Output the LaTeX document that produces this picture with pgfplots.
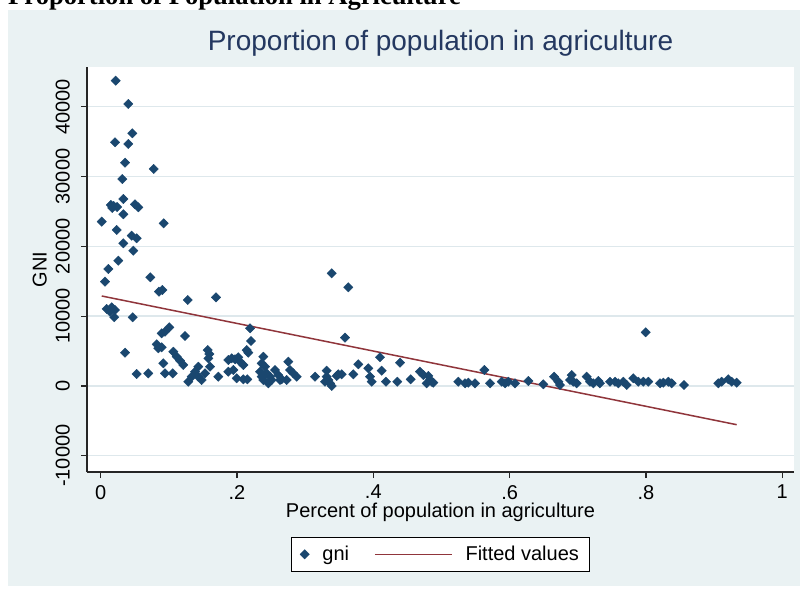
\documentclass[border=0pt]{standalone}
\usepackage{fontspec}
\setmainfont{Liberation Sans}
\newfontfamily\timesf{Liberation Serif}
\usepackage{pgfplots}
\pgfplotsset{compat=1.18}
\definecolor{bgc}{RGB}{234,242,243}
\definecolor{gridc}{RGB}{222,232,236}
\definecolor{stnavy}{RGB}{26,71,111}
\definecolor{stmaroon}{RGB}{144,53,59}
\definecolor{titlec}{RGB}{36,56,96}
\pgfplotsset{
  markleg/.style={legend image code/.code={\draw[##1] plot coordinates {(0pt,0pt)};}},
  lineleg/.style={legend image code/.code={\draw[##1] (0pt,0pt) -- (77pt,0pt);}},
}
\pgfplotstableread{
x y
0.022 43730
0.0405 40390
0.0464 36190
0.021 34900
0.0405 34660
0.0357 31980
0.0778 31080
0.0317 29640
0.0332 26780
0.015 25920
0.019 25780
0.024 25630
0.017 25500
0.0503 26020
0.0552 25590
0.0332 24590
0.0015 23530
0.0924 23290
0.0235 22340
0.0455 21520
0.0528 21150
0.0332 20430
0.0478 19370
0.0258 17940
0.0112 16750
0.0063 14930
0.0728 15560
0.0855 13500
0.0904 13740
0.1277 12310
0.1692 12690
0.0088 11020
0.0161 11260
0.021 10870
0.0136 10630
0.0199 9830
0.047 9830
0.1007 8395
0.0944 7765
0.0895 7535
0.1237 7150
0.0357 4760
0.0822 5960
0.0845 5390
0.0895 5530
0.0528 1705
0.0698 1800
0.0919 3240
0.0944 1800
0.1057 1800
0.1066 4900
0.1115 4180
0.1164 3610
0.1212 2995
0.1285 600
0.1335 1320
0.1384 2035
0.1432 2750
0.1432 1320
0.148 845
0.157 5140
0.158 3950
0.1604 2750
0.153 1800
0.1726 1320
0.2191 8250
0.2205 6430
0.2142 5140
0.2166 4760
0.1594 4570
0.1873 3710
0.1922 3950
0.1971 3810
0.2019 4100
0.2044 3470
0.2093 2995
0.1873 2035
0.1946 2280
0.1996 1090
0.2093 945
0.2151 945
0.2386 4180
0.2362 3240
0.2411 2750
0.2338 2035
0.2436 1800
0.2485 1320
0.2386 845
0.2459 370
0.2509 845
0.2362 1320
0.2558 2280
0.2606 1560
0.2631 845
0.2753 3470
0.2778 2280
0.2826 1800
0.2876 1320
0.2656 945
0.2729 845
0.3145 1320
0.339 16130
0.3633 14130
0.3585 6910
0.3316 2180
0.3316 1320
0.3291 600
0.3365 370
0.339 -15
0.334 845
0.3487 1660
0.3536 1660
0.3463 1420
0.3707 1660
0.378 3095
0.3927 2520
0.3952 1320
0.3976 600
0.4098 4100
0.4123 2180
0.4186 600
0.4352 600
0.4392 3325
0.4549 945
0.4685 2035
0.4734 1560
0.4807 1420
0.4832 845
0.4783 370
0.4857 600
0.4881 460
0.5247 600
0.5346 370
0.5394 460
0.5492 370
0.5629 2280
0.5713 370
0.5884 600
0.5933 370
0.5981 600
0.6079 370
0.6275 700
0.6495 230
0.6652 1320
0.6715 600
0.674 130
0.6911 1560
0.6935 600
0.6984 370
0.6886 845
0.7131 1320
0.718 600
0.7228 370
0.7302 700
0.7326 370
0.7473 600
0.7547 600
0.7595 370
0.7668 600
0.7718 130
0.7815 1090
0.7888 600
0.7962 600
0.8035 600
0.7997 7680
0.8207 370
0.8255 460
0.8329 600
0.8378 370
0.8559 130
0.9062 370
0.9112 600
0.9209 945
0.9259 600
0.9332 460
}\gnidata
\pgfplotstableread{
x y
0.0015 12880
0.9332 -5558
}\fitdata
\begin{document}
\begin{tikzpicture}[x=1pt,y=1pt]
\path[use as bounding box, clip] (0,0) rectangle (803,592);
\fill[bgc] (8,6) rectangle (800,582);
\node[anchor=base west, inner sep=0pt, font=\fontsize{26.6}{26.6}\selectfont\timesf\bfseries] at (8,587) {Proportion of Population in Agriculture};
\begin{axis}[
  at={(87pt,120pt)}, anchor=south west,
  scale only axis, width=707pt, height=404.5pt,
  xmin=-0.0201, xmax=1.0173, ymin=-12335, ymax=45616,
  axis x line*=bottom, axis y line*=left,
  axis line style={draw=black!85, line width=1.2pt},
  tick style={draw=black!85, line width=1.2pt},
  tick align=outside, major tick length=6pt,
  axis background/.style={fill=white},
  xtick={0,0.2,0.4,0.6,0.8,1}, xticklabels={0,.2,.4,.6,.8,1},
  ytick={-10000,0,10000,20000,30000,40000},
  yticklabels={-10000,0,10000,20000,30000,40000},
  scaled y ticks=false,
  ymajorgrids, grid style={draw=gridc, line width=1.5pt},
  ticklabel style={font=\fontsize{20}{20}\selectfont},
  yticklabel style={rotate=90, anchor=south, inner sep=0pt, inner ysep=11pt},
  xticklabel style={anchor=north, inner sep=0pt, yshift=-7pt},
  title={Proportion of population in agriculture},
  title style={at={(axis description cs:0.5,1.0267)}, anchor=base, font=\fontsize{28}{28}\selectfont, text=titlec},
  xlabel={Percent of population in agriculture},
  xlabel style={at={(axis description cs:0.5,-0.1135)}, anchor=base, inner sep=0pt, font=\fontsize{20}{20}\selectfont},
  ylabel={GNI},
  ylabel style={at={(axis description cs:-0.057,0.5)}, anchor=base, inner sep=0pt, font=\fontsize{20}{20}\selectfont},
  legend columns=2,
  legend style={at={(0.5,-0.2035)}, anchor=center, draw=black, fill=white, line width=1pt,
    font=\fontsize{20}{20}\selectfont, inner xsep=8.5pt, inner ysep=7pt,
    /tikz/every odd column/.append style={column sep=11pt},
    /tikz/every even column/.append style={column sep=23pt}},
]
\addplot[only marks, mark=square*, mark size=3.3pt, mark options={rotate=45, fill=stnavy, draw=stnavy, line width=0.4pt}, markleg] table[x=x, y=y] {\gnidata};
\addlegendentry{gni}
\addplot[stmaroon, line width=1.5pt, no marks, lineleg] table[x=x, y=y] {\fitdata};
\addlegendentry{Fitted values}
\end{axis}
\end{tikzpicture}
\end{document}
